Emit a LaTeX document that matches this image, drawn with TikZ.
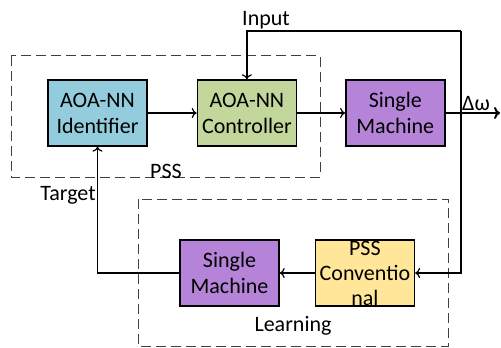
\documentclass[tikz,border=0pt]{standalone}
\usepackage{fontspec}
\setmainfont{Carlito}
\usetikzlibrary{arrows.meta,positioning}
\definecolor{identfill}{HTML}{93CDDD}
\definecolor{ctrlfill}{HTML}{C3D69B}
\definecolor{machfill}{HTML}{B584D8}
\definecolor{convfill}{HTML}{FFE699}
\definecolor{groupline}{HTML}{404040}
\tikzset{
  block/.style={draw,line width=0.7pt,minimum width=49.5pt,minimum height=33pt,
    inner sep=0pt,align=center,font=\fontsize{11}{13}\selectfont},
  ident block/.style={block,fill=identfill},
  ctrl block/.style={block,fill=ctrlfill},
  mach block/.style={block,fill=machfill},
  conv block/.style={block,fill=convfill},
  group box/.style={draw=groupline,line width=0.5pt,dash pattern=on 5pt off 2.5pt},
  sig arrow/.style={-{To[length=2.5pt,width=5pt]},line width=0.6pt},
  out arrow/.style={-{To[length=3pt,width=6pt,line width=1pt]},line width=1.2pt},
  sig label/.style={font=\fontsize{11}{12}\selectfont,inner sep=0pt},
}
\begin{document}
\begin{tikzpicture}[x=0.5pt,y=-0.5pt]
  \useasboundingbox (0,0) rectangle (501,347);
  % groups
  \draw[group box] (11,56) rectangle (320,177);
  \draw[group box] (138,199) rectangle (448,346);
  % upper row
  \node[ident block] (ident) at (97.5,113) {AOA-NN\\Identifier};
  \node[ctrl block,right=24.5pt of ident] (ctrl) {AOA-NN\\Controller};
  \node[mach block,right=24pt of ctrl] (mach) {Single\\Machine};
  % lower row
  \node[mach block] (mach2) at (229.5,273) {Single\\Machine};
  \node[conv block,right=17.5pt of mach2,
    label={[sig label,align=center,font=\fontsize{11}{12.5}\selectfont]center:PSS\\Conventio\\nal}] (conv) {};
  % loop points
  \coordinate (tap) at (461,113);
  \coordinate (top) at (461,31);
  \coordinate (out) at (500,113);
  \draw[sig arrow] (ident) -- (ctrl);
  \draw[sig arrow] (ctrl) -- (mach);
  \draw[out arrow] (mach.east) -- (out);
  \draw[sig arrow] (top) -| (ctrl.north);
  \draw[sig arrow] (top) |- (conv.east);
  \draw[sig arrow] (conv) -- (mach2);
  \draw[sig arrow] (mach2.west) -| (ident.south);
  % labels
  \node[sig label] (inputlbl) at (266,20) {Input};
  \node[sig label] (dwlbl) at (476,104) {Δω};
  \node[sig label] (psslbl) at (166,171) {PSS};
  \node[sig label] (targetlbl) at (68,195) {Target};
  \node[sig label] (learnlbl) at (293,326) {Learning};
\end{tikzpicture}
\end{document}
